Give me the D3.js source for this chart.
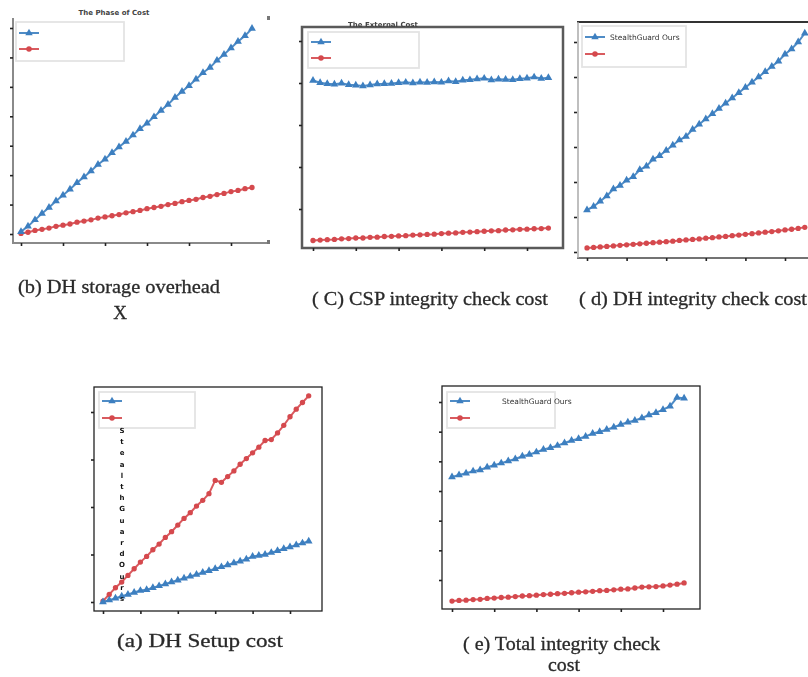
<!DOCTYPE html>
<html>
<head>
<meta charset="utf-8">
<script src="https://cdn.jsdelivr.net/npm/d3@7"></script>
<style>
  body { margin: 0; background: #fff; }
  svg { display: block; }
</style>
</head>
<body>
<svg width="808" height="677"></svg>
<script>
// x positions (runs) shared by every panel
const rounds = [1, 2, 3, 4, 5, 6, 7, 8, 9, 10, 11, 12, 13, 14, 15, 16, 17,
                18, 19, 20, 21, 22, 23, 24, 25, 26, 27, 28, 29, 30, 31, 32, 33, 34];
const xTicks = [1, 7, 13, 19, 25, 31];

// (b) DH storage overhead
const storageOurs = [4, 13, 24, 35, 45, 56, 66, 76, 87, 97, 107, 118, 127, 138, 148, 157, 168,
                     179, 188, 199, 210, 220, 232, 242, 252, 263, 274, 283, 295, 305, 316, 327, 337, 349];
const storageBase = [1, 3, 6, 8, 10, 13, 15, 17, 20, 22, 24, 27, 29, 31, 33, 36, 38,
                     40, 43, 45, 47, 50, 52, 55, 57, 59, 62, 64, 67, 69, 72, 74, 77, 79];
const storageTicks = [0, 50, 100, 150, 200, 250, 300, 350];

// (C) CSP integrity check cost
const cspOurs = [81.2, 80.1, 79.6, 79.4, 79.9, 79.2, 78.9, 78.6, 79.1, 79.5, 79.6, 79.8, 80.1, 80.3, 80.0, 80.4, 80.2,
                 80.5, 80.3, 81.0, 80.6, 81.3, 81.5, 81.9, 82.2, 81.4, 81.8, 81.7, 81.6, 82.0, 82.3, 82.8, 82.1, 82.5];
const cspBase = [5.0, 5.2, 5.4, 5.5, 5.8, 5.9, 6.2, 6.2, 6.5, 6.6, 6.9, 7.0, 7.2, 7.3, 7.6, 7.7, 7.9,
                 8.0, 8.3, 8.5, 8.6, 8.9, 9.0, 9.2, 9.4, 9.6, 9.7, 10.0, 10.1, 10.3, 10.4, 10.6, 10.7, 10.9];
const cspTicks = [20, 40, 60, 80, 100];

// (d) DH integrity check cost
const dhOurs = [24, 26, 29, 32, 36, 38, 41, 43, 47, 49, 53, 55, 58, 61, 64, 66, 70,
                73, 76, 79, 82, 85, 88, 91, 94, 97, 100, 103, 106, 109, 113, 116, 120, 125];
const dhBase = [2.3, 2.6, 2.9, 3.2, 3.5, 3.8, 4.1, 4.4, 4.7, 5.0, 5.3, 5.6, 5.9, 6.2, 6.6, 6.9, 7.2,
                7.5, 7.9, 8.2, 8.6, 8.9, 9.3, 9.7, 10.1, 10.5, 10.9, 11.3, 11.7, 12.1, 12.6, 13.0, 13.5, 14.1];
const dhTicks = [0, 20, 40, 60, 80, 100, 120];

// (a) DH Setup cost
const setupOurs = [0, 2, 4, 6, 8, 10, 12, 13, 15, 17, 19, 21, 23, 25, 27, 29, 31,
                   33, 35, 37, 39, 41, 43, 45, 48, 49, 50, 52, 54, 56, 58, 60, 62, 64];
const setupBase = [1, 8, 15, 21, 28, 35, 42, 48, 55, 61, 68, 74, 81, 88, 94, 101, 107,
                   114, 128, 126, 132, 138, 145, 151, 157, 163, 170, 171, 178, 186, 195, 203, 210, 217];
const setupTicks = [0, 50, 100, 150, 200];

// (e) Total integrity check cost
const totalOurs = [44.7, 45.4, 46.0, 46.7, 47.1, 48.0, 48.7, 49.4, 50.1, 50.8, 51.7, 52.3, 53.1, 54.0, 54.6, 55.3, 56.2,
                   57.0, 57.6, 58.4, 59.4, 60.0, 60.7, 61.5, 62.4, 63.2, 63.8, 64.6, 65.6, 66.4, 67.4, 68.6, 71.5, 71.3];
const totalBase = [2.9, 3.1, 3.2, 3.4, 3.5, 3.8, 3.9, 4.1, 4.2, 4.4, 4.6, 4.7, 4.9, 5.1, 5.2, 5.4, 5.5,
                   5.7, 5.9, 6.0, 6.2, 6.4, 6.5, 6.7, 6.9, 7.0, 7.3, 7.6, 7.7, 7.8, 8.0, 8.3, 8.6, 9.0];
const totalTicks = [10, 20, 30, 40, 50, 60, 70];

const oursLabel = "StealthGuard Ours";
const blue = "#3c7fc0", red = "#d5484e";

let svg = d3.select("svg");

// soft blur, the reference is a low resolution screenshot
svg.append("defs").append("filter")
    .attr("id", "soft")
    .append("feGaussianBlur")
    .attr("stdDeviation", 0.55);

// layout of every panel (pixels); the marks themselves come from scales
let panels = [
  { ours: storageOurs, base: storageBase, yTicks: storageTicks,
    plot: [13, 18, 268, 243], xPx: [21, 231], yPx: [234, 28], frame: "lb",
    legend: [16, 22, 124, 61], legendY: [33, 49], title: ["The Phase of Cost", 114, 15] },
  { ours: cspOurs, base: cspBase, yTicks: cspTicks,
    plot: [302, 27, 563, 248], xPx: [313, 527], yPx: [209, 41], frame: "box",
    legend: [308, 32, 419, 68], legendY: [42, 58], title: ["The External Cost", 383, 27] },
  { ours: dhOurs, base: dhBase, yTicks: dhTicks,
    plot: [577, 22, 830, 258], xPx: [587, 785], yPx: [252, 42], frame: "open",
    legend: [582, 26, 686, 67], legendY: [37, 54], label: true },
  { ours: setupOurs, base: setupBase, yTicks: setupTicks,
    plot: [94, 387, 322, 611], xPx: [103, 290], yPx: [602, 412], frame: "thin",
    legend: [99, 392, 195, 428], legendY: [401, 418], vertical: true },
  { ours: totalOurs, base: totalBase, yTicks: totalTicks,
    plot: [442, 386, 700, 609], xPx: [452, 663], yPx: [580, 402], frame: "thin",
    legend: [447, 392, 555, 428], legendY: [401, 418], label: true, labelX: 502 }
];

function drawPanel (p) {
  let [x0, y0, x1, y1] = p.plot;
  let x = d3.scaleLinear().domain([xTicks[0], xTicks[xTicks.length - 1]]).range(p.xPx);
  let y = d3.scaleLinear().domain([p.yTicks[0], p.yTicks[p.yTicks.length - 1]]).range(p.yPx);
  let g = svg.append("g");

  // frame
  if (p.frame === "lb") {
    g.append("path").attr("d", `M${x0},${y0}V${y1}H${x1}`)
        .attr("fill", "none").attr("stroke", "#8a8a8a").attr("stroke-width", 2);
    g.append("rect").attr("x", x1 - 1).attr("y", y0 - 2).attr("width", 3).attr("height", 4).attr("fill", "#777");
    g.append("rect").attr("x", x1 - 1).attr("y", y1 - 3).attr("width", 3).attr("height", 4).attr("fill", "#777");
  } else if (p.frame === "box") {
    g.append("rect").attr("x", x0).attr("y", y0).attr("width", x1 - x0).attr("height", y1 - y0)
        .attr("fill", "none").attr("stroke", "#5a5a5a").attr("stroke-width", 2.5);
  } else if (p.frame === "open") {
    g.append("line").attr("x1", x0).attr("x2", x1).attr("y1", y0).attr("y2", y0)
        .attr("stroke", "#333").attr("stroke-width", 2);
    g.append("line").attr("x1", x0).attr("x2", x1).attr("y1", y1).attr("y2", y1)
        .attr("stroke", "#444").attr("stroke-width", 1.5);
    g.append("line").attr("x1", x0 + 1).attr("x2", x0 + 1).attr("y1", y0).attr("y2", y1)
        .attr("stroke", "#aaa").attr("stroke-width", 1.5);
  } else {
    g.append("rect").attr("x", x0).attr("y", y0).attr("width", x1 - x0).attr("height", y1 - y0)
        .attr("fill", "none").attr("stroke", "#222").attr("stroke-width", 1.3);
  }

  // tick marks only, no labels
  let xAxis = g.append("g").attr("transform", `translate(0,${y1})`)
      .call(d3.axisBottom(x).tickValues(xTicks).tickSize(3).tickFormat(""));
  let yAxis = g.append("g").attr("transform", `translate(${x0},0)`)
      .call(d3.axisLeft(y).tickValues(p.yTicks).tickSize(3).tickFormat(""));
  [xAxis, yAxis].forEach(a => {
    a.select(".domain").remove();
    a.selectAll("line").attr("stroke", "#222").attr("stroke-width", 1.6);
  });

  // legend box
  let [lx0, ly0, lx1, ly1] = p.legend;
  g.append("rect").attr("x", lx0).attr("y", ly0).attr("width", lx1 - lx0).attr("height", ly1 - ly0)
      .attr("fill", "#fff").attr("stroke", "#e4e4e4").attr("stroke-width", 1.8);

  let marks = g.append("g").attr("filter", "url(#soft)");
  let line = d3.line().x((d, i) => x(rounds[i])).y(d => y(d));

  let series = [
    { values: p.base, color: red, symbol: d3.symbolCircle, size: 22 },
    { values: p.ours, color: blue, symbol: d3.symbolTriangle, size: 26 }
  ];
  series.forEach(s => {
    marks.append("path").datum(s.values)
        .attr("d", line)
        .attr("fill", "none").attr("stroke", s.color).attr("stroke-width", 2).attr("opacity", 0.9);
    marks.selectAll(null).data(s.values).enter()
        .append("path")
        .attr("d", d3.symbol().type(s.symbol).size(s.size))
        .attr("transform", (d, i) => `translate(${x(rounds[i])},${y(d)})`)
        .attr("fill", s.color);
  });

  // legend entries
  [[blue, d3.symbolTriangle, p.legendY[0]], [red, d3.symbolCircle, p.legendY[1]]].forEach(([c, sym, ly]) => {
    let le = g.append("g").attr("filter", "url(#soft)");
    le.append("line").attr("x1", lx0 + 3).attr("x2", lx0 + 23).attr("y1", ly).attr("y2", ly)
        .attr("stroke", c).attr("stroke-width", 1.8);
    le.append("path").attr("d", d3.symbol().type(sym).size(24))
        .attr("transform", `translate(${lx0 + 13},${ly})`).attr("fill", c);
  });

  if (p.label) {
    g.append("text").attr("x", p.labelX || lx0 + 28).attr("y", p.legendY[0] + 3)
        .attr("font-family", "DejaVu Sans, sans-serif").attr("font-size", 7.5)
        .attr("fill", "#333").text(oursLabel);
  }

  if (p.vertical) {
    // the legend label of (a) ended up as a column of letters
    let letters = oursLabel.replace(" ", "").split("");
    g.selectAll(null).data(letters).enter()
        .append("text")
        .attr("x", lx0 + 23)
        .attr("y", (d, i) => ly1 + 5 + i * 11.2)
        .attr("text-anchor", "middle")
        .attr("font-family", "DejaVu Sans, sans-serif").attr("font-weight", "bold")
        .attr("font-size", 7).attr("fill", "#111")
        .text(d => d);
  }

  if (p.title) {
    g.append("text").attr("x", p.title[1]).attr("y", p.title[2])
        .attr("text-anchor", "middle")
        .attr("font-family", "DejaVu Sans, sans-serif").attr("font-weight", "bold")
        .attr("font-size", 7).attr("fill", "#444")
        .text(p.title[0]);
  }
}

panels.forEach(drawPanel);

// captions under the panels
let captions = [
  ["(b) DH storage overhead", 18, 293, 202],
  ["X", 120, 319, 0],
  ["( C) CSP integrity check cost", 312, 305, 236],
  ["( d) DH integrity check cost", 579, 305, 228],
  ["(a) DH Setup cost", 117, 647, 166],
  ["( e) Total integrity check", 463, 650, 197],
  ["cost", 548, 671, 32]
];
captions.forEach(([t, cx, cy, w]) => {
  let txt = svg.append("text")
      .attr("x", cx).attr("y", cy)
      .attr("font-family", "Liberation Serif, Times New Roman, serif")
      .attr("font-size", 19).attr("fill", "#2a2a2a")
      .attr("stroke", "#2a2a2a").attr("stroke-width", 0.3)
      .text(t);
  if (w) txt.attr("textLength", w).attr("lengthAdjust", "spacingAndGlyphs");
  else txt.attr("text-anchor", "middle");
});
</script>
</body>
</html>
